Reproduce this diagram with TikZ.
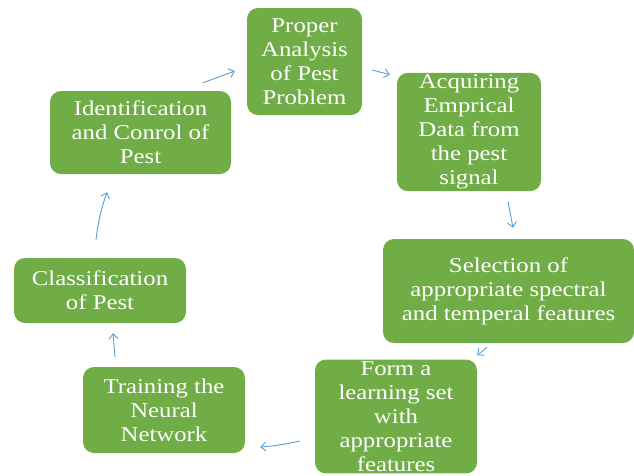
\documentclass[tikz,border=0pt]{standalone}
\usepackage{fontspec}
\setmainfont[FakeStretch=1.18]{Liberation Serif}
\usepackage{xcolor}
\definecolor{pestgreen}{HTML}{70AD47}
\definecolor{pestblue}{HTML}{5B9BD5}
\usepackage{tikz}
\usetikzlibrary{arrows.meta, positioning}

\begin{document}
\begin{tikzpicture}[
  x=1pt, y=-1pt,
  stage/.style={rectangle, rounded corners=11pt, fill=pestgreen, text=white,
    inner sep=2pt, align=center, font=\fontsize{21}{24}\selectfont},
  arrow/.style={-{Straight Barb[length=5pt,width=9pt]}, line width=0.9pt, color=pestblue}
]
\useasboundingbox (0,0) rectangle (634,475);

\node[stage, minimum width=115pt, minimum height=107pt] (proper) at (304.5,61.5)
  {Proper\\Analysis\\of Pest\\Problem};

\node[stage, minimum width=144pt, minimum height=116pt] (acquire) at (469,132)
  {Acquiring\\Emprical\\Data from\\the pest\\signal};

\node[stage, minimum width=251pt, minimum height=104pt] (select) at (508.5,291)
  {Selection of\\appropriate spectral\\and temperal features};

\node[stage, minimum width=162pt, minimum height=112pt] (form) at (396,416.5)
  {Form a\\learning set\\with\\appropriate\\features};

\node[stage, minimum width=162pt, minimum height=86pt] (train) at (164,410)
  {Training the\\Neural\\Network};

\node[stage, minimum width=172pt, minimum height=65pt] (classify) at (100,290.5)
  {Classification\\of Pest};

\node[stage, minimum width=181pt, minimum height=83pt] (identify) at (140.5,132.5)
  {Identification\\and Conrol of\\Pest};

% the cycle
\draw[arrow] ([shift={(62.5,-8)}]identify.north) -- ([shift={(-12,9.5)}]proper.west);
\draw[arrow] ([shift={(10,8.5)}]proper.east) -- ([shift={(-7,2)}]acquire.north west);
\draw[arrow] ([shift={(39,10)}]acquire.south) -- ([shift={(4.5,-11)}]select.north);
\draw[arrow] ([shift={(-21.5,4)}]select.south) -- ([shift={(0,-4)}]form.north east);
\draw[arrow] ([shift={(-15,24.5)}]form.west) to[bend left=4] ([shift={(15,37)}]train.east);
\draw[arrow] ([shift={(-49,-10)}]train.north) -- ([shift={(13,10)}]classify.south);
\draw[arrow] ([shift={(-4,-18)}]classify.north) to[bend left=6] ([shift={(-33.5,18)}]identify.south);
\end{tikzpicture}
\end{document}
